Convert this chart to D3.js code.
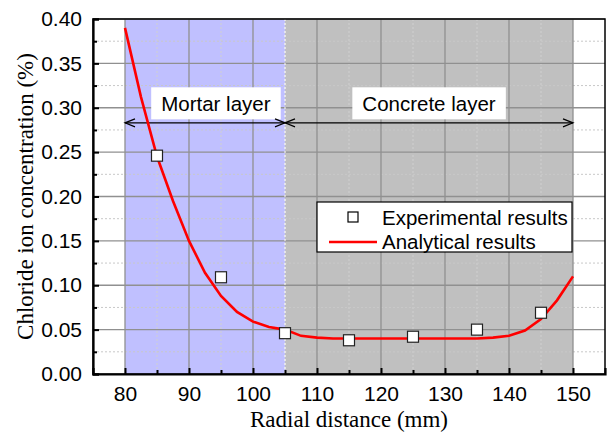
<!DOCTYPE html>
<html lang="en">
<head>
<meta charset="UTF-8" />
<title>Chloride ion concentration</title>
<script src="https://d3js.org/d3.v7.min.js"></script>
<style>
  body { margin: 0; background: #fff; }
  .tick-label { font-family: "Liberation Sans", Arial, sans-serif; font-size: 21px; fill: #000; }
  .axis-title { font-family: "Liberation Serif", "Times New Roman", serif; font-size: 23px; fill: #000; }
  .note { font-family: "Liberation Sans", Arial, sans-serif; font-size: 20.5px; fill: #000; }
  .legend-text { font-family: "Liberation Sans", Arial, sans-serif; font-size: 20.5px; fill: #000; }
</style>
</head>
<body>
<svg id="chart"></svg>
<script>
// experimental points
const expX = [85, 95, 105, 115, 125, 135, 145];
const expY = [0.246, 0.109, 0.046, 0.038, 0.042, 0.050, 0.069];

// analytical curve (every 2.5 mm)
const curveX = [80, 82.5, 85, 87.5, 90, 92.5, 95, 97.5, 100, 102.5, 105, 107.5, 110,
  112.5, 115, 117.5, 120, 122.5, 125, 127.5, 130, 132.5, 135, 137.5, 140, 142.5, 145, 147.5, 150];
const curveY = [0.390, 0.312, 0.245, 0.195, 0.150, 0.114, 0.088, 0.070, 0.059, 0.053, 0.050, 0.043, 0.041,
  0.040, 0.040, 0.040, 0.040, 0.040, 0.040, 0.040, 0.040, 0.040, 0.040, 0.041, 0.043, 0.049, 0.062, 0.083, 0.110];

const xTicks = [80, 90, 100, 110, 120, 130, 140, 150];
const yTicks = [0, 0.05, 0.10, 0.15, 0.20, 0.25, 0.30, 0.35, 0.40];
const layers = [
  { name: "Mortar layer", from: 80, to: 105, labelAt: 94.2, color: "#c0c0ff" },
  { name: "Concrete layer", from: 105, to: 150, labelAt: 127.5, color: "#c0c0c0" }
];

const W = 609, H = 435;
const margin = { top: 19, right: 4, bottom: 61, left: 93 };
const width = W - margin.left - margin.right;
const height = H - margin.top - margin.bottom;

const root = d3.select("#chart").attr("width", W).attr("height", H);
const svg = root.append("g").attr("transform", `translate(${margin.left},${margin.top})`);

const x = d3.scaleLinear().domain([75, 155]).range([0, width]);
const y = d3.scaleLinear().domain([0, 0.40]).range([height, 0]);

// shaded layers
svg.selectAll(".layer").data(layers).enter().append("rect")
  .attr("x", d => x(d.from)).attr("y", 0)
  .attr("width", d => x(d.to) - x(d.from)).attr("height", height)
  .attr("fill", d => d.color);

// minor grid (dotted)
const xMinor = xTicks.slice(0, -1).map(v => v + 5);
const yMinor = yTicks.slice(0, -1).map(v => v + 0.025);
svg.selectAll(".gxm").data(xMinor).enter().append("line")
  .attr("x1", d => x(d)).attr("x2", d => x(d)).attr("y1", 0).attr("y2", height)
  .attr("stroke", "#d0d0d0").attr("stroke-width", 1).attr("stroke-dasharray", "2,2");
svg.selectAll(".gym").data(yMinor).enter().append("line")
  .attr("x1", 0).attr("x2", width).attr("y1", d => y(d)).attr("y2", d => y(d))
  .attr("stroke", "#c8c8c8").attr("stroke-width", 1).attr("stroke-dasharray", "2,2");

// major grid
svg.selectAll(".gx").data(xTicks).enter().append("line")
  .attr("x1", d => x(d)).attr("x2", d => x(d)).attr("y1", 0).attr("y2", height)
  .attr("stroke", "#909090").attr("stroke-width", 1.3);
svg.selectAll(".gy").data(yTicks.slice(1)).enter().append("line")
  .attr("x1", 0).attr("x2", width).attr("y1", d => y(d)).attr("y2", d => y(d))
  .attr("stroke", "#909090").attr("stroke-width", 1.3);

// white dotted separator at 105
svg.append("line")
  .attr("x1", x(105)).attr("x2", x(105)).attr("y1", 0).attr("y2", height)
  .attr("stroke", "#fff").attr("stroke-width", 1).attr("stroke-dasharray", "2,2");

// layer labels and arrows
const arrowY = y(0.283);
layers.forEach(l => {
  const t = svg.append("text").attr("class", "note")
    .attr("x", x(l.labelAt)).attr("y", y(0.305)).attr("text-anchor", "middle")
    .attr("dominant-baseline", "central").text(l.name);
  const bb = t.node().getBBox();
  svg.insert("rect", () => t.node())
    .attr("x", bb.x - 10).attr("y", y(0.305) - 16)
    .attr("width", bb.width + 20).attr("height", 32).attr("fill", "#fff");
  const x0 = x(l.from), x1 = x(l.to);
  svg.append("line").attr("x1", x0).attr("x2", x1).attr("y1", arrowY).attr("y2", arrowY)
    .attr("stroke", "#000").attr("stroke-width", 1.2);
  svg.append("path")
    .attr("d", `M${x0 + 10},${arrowY - 4}L${x0},${arrowY}L${x0 + 10},${arrowY + 4}` +
      `M${x1 - 10},${arrowY - 4}L${x1},${arrowY}L${x1 - 10},${arrowY + 4}`)
    .attr("fill", "none").attr("stroke", "#000").attr("stroke-width", 1.2);
});

// analytical curve
const curve = curveX.map((v, i) => [v, curveY[i]]);
svg.append("path").datum(curve)
  .attr("d", d3.line().x(d => x(d[0])).y(d => y(d[1])))
  .attr("fill", "none").attr("stroke", "#ff0000").attr("stroke-width", 2.6);

// experimental squares
svg.selectAll(".pt").data(expX).enter().append("rect")
  .attr("x", d => x(d) - 5.5).attr("y", (d, i) => y(expY[i]) - 5.5)
  .attr("width", 11).attr("height", 11)
  .attr("fill", "#fff").attr("stroke", "#222").attr("stroke-width", 1.2);

// frame
svg.append("rect").attr("x", 0).attr("y", 0).attr("width", width).attr("height", height)
  .attr("fill", "none").attr("stroke", "#000").attr("stroke-width", 1.5);

// axes (ticks inward)
svg.append("g").attr("transform", `translate(0,${height})`)
  .call(d3.axisBottom(x).tickValues(xTicks).tickSize(-6).tickPadding(12).tickFormat(d3.format("d")));
svg.append("g").attr("transform", `translate(0,${height})`)
  .call(d3.axisBottom(x).tickValues(xMinor).tickSize(-4).tickFormat(""))
  .select(".domain").remove();
svg.append("g")
  .call(d3.axisLeft(y).tickValues(yTicks).tickSize(-6).tickPadding(11).tickFormat(d3.format(".2f")));
svg.append("g")
  .call(d3.axisLeft(y).tickValues(yMinor).tickSize(-4).tickFormat(""))
  .select(".domain").remove();
svg.selectAll(".domain").attr("stroke-width", 2.2).attr("stroke", "#000");
svg.selectAll(".tick line").attr("stroke", "#000").attr("stroke-width", 2);
svg.selectAll(".tick text").attr("class", "tick-label").attr("font-size", null).attr("font-family", null);

// axis titles
svg.append("text").attr("class", "axis-title")
  .attr("x", x(115)).attr("y", height + 53).attr("text-anchor", "middle")
  .text("Radial distance (mm)");
svg.append("text").attr("class", "axis-title")
  .attr("transform", `translate(${-60},${height / 2}) rotate(-90)`)
  .attr("text-anchor", "middle").text("Chloride ion concentration (%)");

// legend
const lg = svg.append("g").attr("transform", `translate(${317 - margin.left},${202 - margin.top})`);
lg.append("rect").attr("width", 255).attr("height", 50)
  .attr("fill", "#fff").attr("stroke", "#000").attr("stroke-width", 1.2);
lg.append("rect").attr("x", 31).attr("y", 10).attr("width", 10).attr("height", 10)
  .attr("fill", "#fff").attr("stroke", "#000").attr("stroke-width", 1.2);
lg.append("text").attr("class", "legend-text").attr("x", 65).attr("y", 15)
  .attr("dominant-baseline", "central").text("Experimental results");
lg.append("line").attr("x1", 12).attr("x2", 60).attr("y1", 40).attr("y2", 40)
  .attr("stroke", "#ff0000").attr("stroke-width", 2.6);
lg.append("text").attr("class", "legend-text").attr("x", 65).attr("y", 39)
  .attr("dominant-baseline", "central").text("Analytical results");
</script>
</body>
</html>
